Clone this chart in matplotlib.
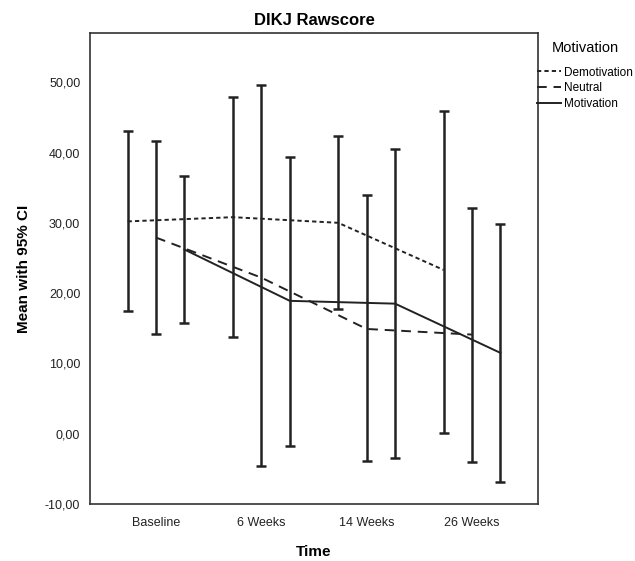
import matplotlib
matplotlib.use("Agg")
import matplotlib.pyplot as plt
import numpy as np
from matplotlib.ticker import FuncFormatter

plt.rcParams['font.family'] = ['Liberation Sans', 'DejaVu Sans']

categories = ["Baseline", "6 Weeks", "14 Weeks", "26 Weeks"]
groups = ["Demotivation", "Neutral", "Motivation"]

demot_mean = [30.2, 30.8, 30.0, 23.3]
demot_low = [17.4, 13.8, 17.8, 0.1]
demot_high = [43.0, 47.9, 42.3, 45.9]

neutral_mean = [27.9, 22.2, 14.9, 14.1]
neutral_low = [14.2, -4.6, -3.9, -4.0]
neutral_high = [41.7, 49.6, 33.9, 32.1]

motiv_mean = [26.2, 18.9, 18.5, 11.5]
motiv_low = [15.7, -1.7, -3.5, -6.9]
motiv_high = [36.6, 39.4, 40.5, 29.8]

yticks = [-10, 0, 10, 20, 30, 40, 50]

fig = plt.figure(figsize=(6.35, 5.61), dpi=100)
ax = fig.add_axes([90/635, 57/561, 448/635, 471/561])

series = [
    (demot_mean, demot_low, demot_high, (0, (2.2, 1.6))),
    (neutral_mean, neutral_low, neutral_high, (0, (5, 3.5))),
    (motiv_mean, motiv_low, motiv_high, '-'),
]
offsets = [-0.27, 0.0, 0.27]
x = np.arange(len(categories))
handles = []
for (m, lo, hi, ls), off, name in zip(series, offsets, groups):
    xs = x + off
    m = np.array(m); lo = np.array(lo); hi = np.array(hi)
    ax.errorbar(xs, m, yerr=[m - lo, hi - m], fmt='none', ecolor='#222222',
                elinewidth=1.8, capsize=3.5, capthick=1.8, zorder=2)
    h, = ax.plot(xs, m, color='#222222', linestyle=ls, linewidth=1.4, label=name, zorder=3)
    handles.append(h)

ax.set_xlim(-0.627, 3.627)
ax.set_ylim(-10, 57)
ax.set_xticks(x)
ax.set_xticklabels(categories, fontsize=9)
ax.set_yticks(yticks)
ax.yaxis.set_major_formatter(FuncFormatter(lambda v, p: f"{v:.2f}".replace('.', ',')))
ax.tick_params(axis='both', length=0, labelsize=9, colors='#222222')
ax.tick_params(axis='y', pad=7)
ax.tick_params(axis='x', pad=9)
for s in ax.spines.values():
    s.set_color('#333333')
    s.set_linewidth(1.2)

ax.set_title("DIKJ Rawscore", fontsize=12, fontweight='bold', pad=6)
ax.set_ylabel("Mean with 95% CI", fontsize=11, fontweight='bold', labelpad=10)
ax.set_xlabel("Time", fontsize=11, fontweight='bold', labelpad=12)

leg = ax.legend(handles=handles, labels=groups, title="Motivation",
                loc='upper left', bbox_to_anchor=(0.998, 0.982), frameon=False,
                fontsize=8.5, title_fontsize=10.5, handlelength=2.0,
                handletextpad=0.25, borderaxespad=0, borderpad=0,
                labelspacing=0.3)
leg._legend_box.sep = 8

fig.savefig("out.png", dpi=100)
